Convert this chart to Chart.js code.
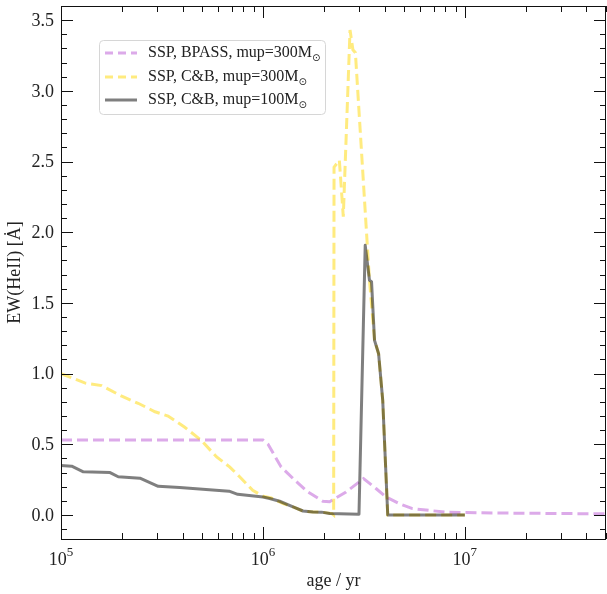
<!DOCTYPE html>
<html>
<head>
<meta charset="utf-8">
<script src="https://cdn.jsdelivr.net/npm/chart.js@4.4.0/dist/chart.umd.min.js"></script>
<style>
  html, body { margin: 0; padding: 0; background: #fff; }
  #wrap { width: 607px; height: 594px; }
</style>
</head>
<body>
<div id="wrap"><canvas id="chart" width="607" height="594"></canvas></div>
<script>
/* ===== data ===== */
const ageBpass = [1e5, 1e6, 1.06e6, 1.23e6, 1.44e6, 1.67e6, 1.98e6, 2.14e6, 2.58e6, 3.15e6,
                  3.63e6, 4.07e6, 4.74e6, 5.5e6, 8e6, 1.2e7, 2e7, 5e7];
const ewBpass  = [0.53, 0.53, 0.5, 0.34, 0.245, 0.163, 0.097, 0.094, 0.163, 0.257,
                  0.187, 0.127, 0.08, 0.045, 0.02, 0.015, 0.012, 0.008];

const ageCB300 = [1e5, 1.31e5, 1.59e5, 2.0e5, 2.41e5, 2.92e5, 3.39e5, 4.1e5, 4.95e5, 5.9e5,
                  6.84e5, 7.67e5, 8.9e5, 1e6, 1.1e6, 1.26e6, 1.41e6, 1.58e6, 1.77e6, 1.95e6,
                  2.2e6, 2.24e6, 2.25e6, 2.39e6, 2.5e6, 2.7e6, 2.79e6, 2.87e6, 3.37e6, 3.57e6,
                  3.74e6, 3.92e6, 4.15e6, 1e7];
const ewCB300  = [1.0, 0.934, 0.915, 0.84, 0.79, 0.73, 0.70, 0.62, 0.528, 0.41,
                  0.34, 0.27, 0.175, 0.132, 0.12, 0.08, 0.057, 0.028, 0.021, 0.02,
                  0.01, 0.0, 2.46, 2.51, 2.11, 3.43, 3.29, 3.27, 1.66, 1.24,
                  1.14, 0.81, 0.0, 0.0];

const ageCB100 = [1e5, 1.13e5, 1.29e5, 1.75e5, 1.92e5, 2.46e5, 3.03e5, 3.87e5, 6.8e5, 7.5e5,
                  1e6, 1.08e6, 1.21e6, 1.41e6, 1.58e6, 1.77e6, 1.95e6, 2.14e6, 2.99e6, 3.21e6,
                  3.37e6, 3.45e6, 3.57e6, 3.74e6, 3.92e6, 4.15e6, 1e7];
const ewCB100  = [0.35, 0.345, 0.305, 0.30, 0.27, 0.26, 0.203, 0.194, 0.168, 0.146,
                  0.127, 0.116, 0.097, 0.057, 0.028, 0.021, 0.02, 0.01, 0.005, 1.907,
                  1.66, 1.65, 1.235, 1.14, 0.81, 0.0, 0.0];

const seriesNames = ["SSP, BPASS, mup=300M", "SSP, C&B, mup=300M", "SSP, C&B, mup=100M"];
const yMajor = [0, 0.5, 1.0, 1.5, 2.0, 2.5, 3.0, 3.5];
const xMajor = [1e5, 1e6, 1e7];
const xExp   = ["5", "6", "7"];

/* ===== styles ===== */
const colPurple = "rgba(186, 85, 211, 0.5)";
const colYellow = "rgba(255, 215, 0, 0.5)";
const colGrey   = "rgba(0, 0, 0, 0.5)";
const serif = "'Liberation Serif', 'DejaVu Serif', serif";

function pts(xs, ys) {
  return xs.map((x, i) => ({ x: x, y: ys[i] }));
}

/* frame + inward ticks on all sides, tick labels */
const framePlugin = {
  id: "frame",
  afterDraw(chart) {
    const { ctx, chartArea: a, scales } = chart;
    const xs = scales.x, ys = scales.y;
    ctx.save();
    ctx.strokeStyle = "#111";
    ctx.lineWidth = 1;
    ctx.strokeRect(Math.round(a.left) + 0.5, Math.round(a.top) + 0.5,
                   Math.round(a.right - a.left) - 1, Math.round(a.bottom - a.top));

    const tick = (x1, y1, x2, y2) => {
      ctx.beginPath(); ctx.moveTo(x1, y1); ctx.lineTo(x2, y2); ctx.stroke();
    };
    // y ticks
    for (let i = -1; i <= 36; i++) {
      const v = i / 10;
      const major = i % 5 === 0 && i >= 0;
      const len = major ? 12 : 6;
      const py = Math.round(ys.getPixelForValue(v)) + 0.5;
      if (py < a.top || py > a.bottom) continue;
      tick(a.left, py, a.left + len, py);
      tick(a.right, py, a.right - len, py);
    }
    // x ticks
    for (let d = 5; d <= 7; d++) {
      for (let m = 1; m <= 9; m++) {
        const v = m * Math.pow(10, d);
        if (v > xs.max) break;
        const len = m === 1 ? 12 : 6;
        const px = Math.round(xs.getPixelForValue(v)) + 0.5;
        tick(px, a.bottom, px, a.bottom - len);
        tick(px, a.top, px, a.top + len);
      }
    }
    ctx.fillStyle = "#222";
    // y tick labels
    ctx.font = "18px " + serif;
    ctx.textAlign = "right";
    ctx.textBaseline = "middle";
    yMajor.forEach(v => {
      ctx.fillText(v.toFixed(1), a.left - 7, ys.getPixelForValue(v) + 1);
    });
    // x tick labels
    ctx.textBaseline = "alphabetic";
    xMajor.forEach((v, i) => {
      const px = xs.getPixelForValue(v);
      ctx.font = "18px " + serif;
      const w1 = ctx.measureText("10").width;
      ctx.font = "13px " + serif;
      const w2 = ctx.measureText(xExp[i]).width;
      const x0 = px - (w1 + w2) / 2;
      ctx.font = "18px " + serif;
      ctx.textAlign = "left";
      ctx.fillText("10", x0, 565);
      ctx.font = "13px " + serif;
      ctx.fillText(xExp[i], x0 + w1, 556);
    });
    ctx.restore();
  }
};

/* legend box drawn in the upper left */
const legendPlugin = {
  id: "boxLegend",
  afterDraw(chart) {
    const ctx = chart.ctx;
    ctx.save();
    ctx.beginPath();
    ctx.roundRect(99.5, 40.5, 226, 74, 4);
    ctx.fillStyle = "rgba(255,255,255,0.8)";
    ctx.fill();
    ctx.strokeStyle = "#d6d6d6";
    ctx.lineWidth = 1;
    ctx.stroke();

    const rows = [53, 77, 100];
    chart.data.datasets.forEach((ds, i) => {
      const y = rows[i];
      ctx.strokeStyle = ds.borderColor;
      ctx.lineWidth = 3;
      ctx.setLineDash(ds.borderDash && ds.borderDash.length ? [8, 5] : []);
      ctx.beginPath();
      ctx.moveTo(105, y);
      ctx.lineTo(137, y);
      ctx.stroke();
      ctx.setLineDash([]);

      ctx.fillStyle = "#222";
      ctx.textBaseline = "middle";
      ctx.textAlign = "left";
      ctx.font = "16px " + serif;
      ctx.fillText(seriesNames[i], 148, y);
      const w = ctx.measureText(seriesNames[i]).width;
      ctx.font = "10px 'DejaVu Sans', sans-serif";
      ctx.fillText("\u2299", 148 + w, y + 5);
    });
    ctx.restore();
  }
};

new Chart(document.getElementById("chart").getContext("2d"), {
  type: "scatter",
  data: {
    datasets: [
      {
        label: seriesNames[0],
        data: pts(ageBpass, ewBpass),
        showLine: true,
        borderColor: colPurple,
        borderWidth: 3,
        borderDash: [11, 5],
        pointRadius: 0,
        order: 2
      },
      {
        label: seriesNames[1],
        data: pts(ageCB300, ewCB300),
        showLine: true,
        borderColor: colYellow,
        borderWidth: 3,
        borderDash: [11, 5],
        pointRadius: 0,
        order: 1
      },
      {
        label: seriesNames[2],
        data: pts(ageCB100, ewCB100),
        showLine: true,
        borderColor: colGrey,
        borderWidth: 3,
        borderJoinStyle: "round",
        pointRadius: 0,
        order: 0
      }
    ]
  },
  options: {
    responsive: false,
    animation: false,
    layout: { autoPadding: false, padding: { top: 6, right: 1, left: 0, bottom: 0 } },
    scales: {
      x: {
        type: "logarithmic",
        min: 1e5,
        max: 5e7,
        grid: { display: false },
        border: { display: false },
        ticks: { display: false },
        title: { display: true, text: "age / yr", color: "#222",
                 font: { family: serif, size: 18 }, padding: { top: 0, bottom: 2 } },
        afterFit(scale) { scale.height = 55; }
      },
      y: {
        min: -0.17,
        max: 3.6,
        grid: { display: false },
        border: { display: false },
        ticks: { display: false },
        title: { display: true, text: "EW(HeII) [\u0226]", color: "#222",
                 font: { family: serif, size: 18 }, padding: { top: 4, bottom: 0 } },
        afterFit(scale) { scale.width = 61; }
      }
    },
    plugins: {
      legend: { display: false },
      tooltip: { enabled: false }
    }
  },
  plugins: [framePlugin, legendPlugin]
});
</script>
</body>
</html>
